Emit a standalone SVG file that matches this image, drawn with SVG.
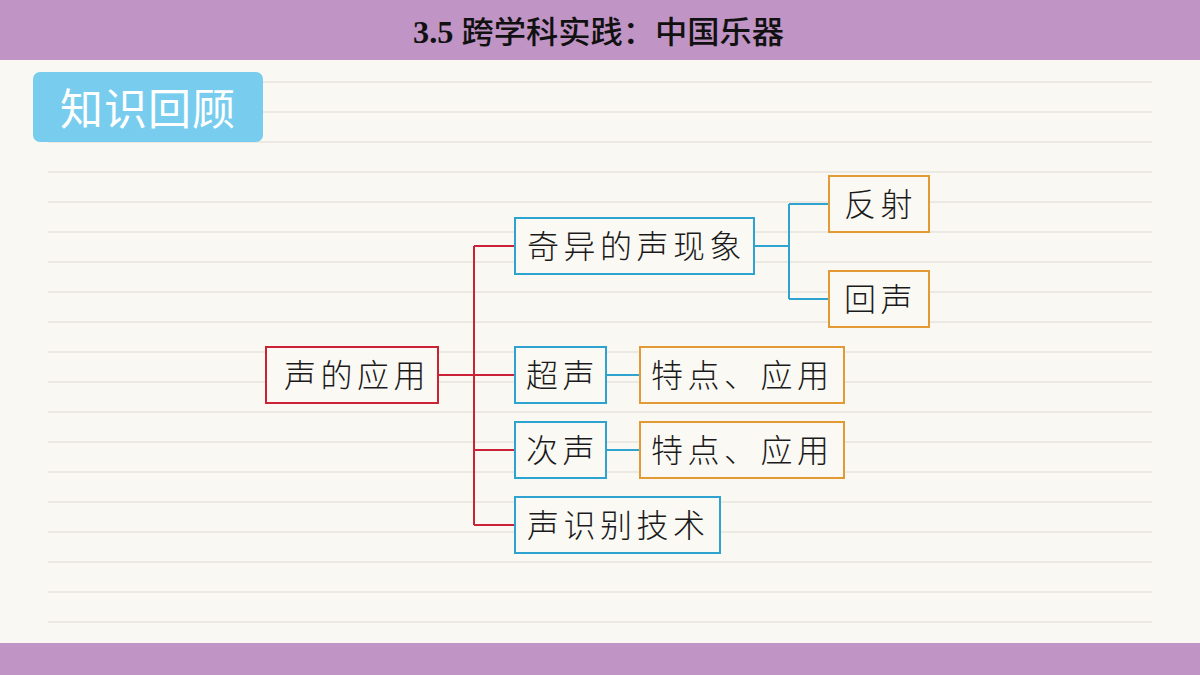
<svg xmlns="http://www.w3.org/2000/svg" width="1200" height="675" viewBox="0 0 1200 675">
<style>
.rule{stroke:#E7E4DD;stroke-width:1.5}
.box{fill:#FBF9F4;stroke-width:2}
.red{stroke:#CC2238}
.blue{stroke:#2FA3CF}
.orange{stroke:#E39A35}
.lbl{font-family:"Noto Sans CJK SC","Noto Sans",sans-serif;font-size:32px;font-weight:300;fill:#1a1a1a;letter-spacing:4.5px}
.conn{fill:none;stroke-width:2}
</style>
<rect x="0" y="0" width="1200" height="675" fill="#FAF8F2"/>
<g id="rules">
<line class="rule" x1="48" y1="82" x2="1152" y2="82"/>
<line class="rule" x1="48" y1="112" x2="1152" y2="112"/>
<line class="rule" x1="48" y1="142" x2="1152" y2="142"/>
<line class="rule" x1="48" y1="172" x2="1152" y2="172"/>
<line class="rule" x1="48" y1="202" x2="1152" y2="202"/>
<line class="rule" x1="48" y1="232" x2="1152" y2="232"/>
<line class="rule" x1="48" y1="262" x2="1152" y2="262"/>
<line class="rule" x1="48" y1="292" x2="1152" y2="292"/>
<line class="rule" x1="48" y1="322" x2="1152" y2="322"/>
<line class="rule" x1="48" y1="352" x2="1152" y2="352"/>
<line class="rule" x1="48" y1="382" x2="1152" y2="382"/>
<line class="rule" x1="48" y1="412" x2="1152" y2="412"/>
<line class="rule" x1="48" y1="442" x2="1152" y2="442"/>
<line class="rule" x1="48" y1="472" x2="1152" y2="472"/>
<line class="rule" x1="48" y1="502" x2="1152" y2="502"/>
<line class="rule" x1="48" y1="532" x2="1152" y2="532"/>
<line class="rule" x1="48" y1="562" x2="1152" y2="562"/>
<line class="rule" x1="48" y1="592" x2="1152" y2="592"/>
<line class="rule" x1="48" y1="622" x2="1152" y2="622"/>
</g>
<g id="header">
<rect x="0" y="0" width="1200" height="60" fill="#C094C4"/>
<text x="413" y="43" textLength="371" lengthAdjust="spacingAndGlyphs" font-family="'Liberation Serif','Noto Sans CJK SC',serif" font-size="31" fill="#111"><tspan font-weight="bold">3.5 </tspan><tspan font-family="'Noto Sans CJK SC',sans-serif" font-weight="500">跨学科实践：中国乐器</tspan></text>
</g>
<g id="footer">
<rect x="0" y="643" width="1200" height="32" fill="#C094C4"/>
</g>
<g id="section-label">
<rect x="33" y="72" width="230" height="70" rx="7" fill="#78CDEE"/>
<text x="60" y="125" font-family="'Noto Sans CJK SC','Noto Sans',sans-serif" font-size="43" fill="#ffffff" letter-spacing="1">知识回顾</text>
</g>
<g id="connectors">
<path class="conn red" d="M438,375 H515 M474,246 V525 M474,246 H515 M474,450 H515 M474,525 H515"/>
<path class="conn blue" d="M754,246 H789 M789,204 V299 M789,204 H829 M789,299 H829 M606,375 H640 M606,450 H640"/>
</g>
<g id="n-root">
<rect class="box red" x="266" y="347" width="172" height="56"/>
<text class="lbl" x="284" y="387">声的应用</text>
</g>
<g id="n-qiyi">
<rect class="box blue" x="515" y="218" width="239" height="56"/>
<text class="lbl" x="527" y="258">奇异的声现象</text>
</g>
<g id="n-fanshe">
<rect class="box orange" x="829" y="176" width="100" height="56"/>
<text class="lbl" x="844" y="216">反射</text>
</g>
<g id="n-huisheng">
<rect class="box orange" x="829" y="271" width="100" height="56"/>
<text class="lbl" x="844" y="311">回声</text>
</g>
<g id="n-chaosheng">
<rect class="box blue" x="515" y="347" width="91" height="56"/>
<text class="lbl" x="526" y="387">超声</text>
</g>
<g id="n-chao-te">
<rect class="box orange" x="640" y="347" width="204" height="56"/>
<text class="lbl" x="651" y="387">特点、应用</text>
</g>
<g id="n-cisheng">
<rect class="box blue" x="515" y="422" width="91" height="56"/>
<text class="lbl" x="526" y="462">次声</text>
</g>
<g id="n-ci-te">
<rect class="box orange" x="640" y="422" width="204" height="56"/>
<text class="lbl" x="651" y="462">特点、应用</text>
</g>
<g id="n-shibie">
<rect class="box blue" x="515" y="497" width="205" height="56"/>
<text class="lbl" x="527" y="537">声识别技术</text>
</g>
</svg>
